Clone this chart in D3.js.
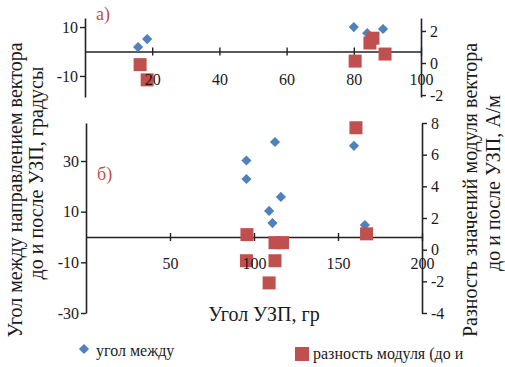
<!DOCTYPE html>
<html>
<head>
<meta charset="utf-8">
<script src="https://cdn.jsdelivr.net/npm/d3@7/dist/d3.min.js"></script>
<style>
  body { margin: 0; background: #fff; }
  svg text { font-family: 'Liberation Serif', 'Times New Roman', Tinos, 'DejaVu Serif', serif; fill: #1a1a1a; }
</style>
</head>
<body>
<div id="root"></div>
<script>
// панель а)
const aAngleX = [15.8, 18.5, 80, 84, 88.7]
const aAngleY = [1.8, 5.1, 10, 7.5, 9.2]
const aModX = [16.4, 18.5, 80.4, 84.8, 85.7, 89.3]
const aModY = [-0.1, -1.05, 0.12, 1.25, 1.55, 0.56]
const aXTicks = [20, 40, 60, 80, 100]
const aYLTicks = [-10, 10]
const aYRTicks = [-2, 0, 2]

// панель б)
const bAngleX = [95.5, 95.5, 112.5, 116, 109, 111, 159.5, 166]
const bAngleY = [30.2, 22.9, 37.5, 15.8, 10.3, 5.5, 36, 4.7]
const bModX = [95.8, 95.5, 109, 112.5, 112.5, 117, 160.7, 167]
const bModY = [0.95, -0.7, -2.1, -0.7, 0.44, 0.44, 7.7, 1.0]
const bXTicks = [50, 100, 150, 200]
const bYLTicks = [-30, -10, 10, 30]
const bYRTicks = [-4, -2, 0, 2, 4, 6, 8]

const blue = "#4f81bd"
const red = "#c0504d"
const serif = "'Liberation Serif', 'Times New Roman', Tinos, 'DejaVu Serif', serif"
const w = 505
const h = 367

const svg = d3.select("#root")
    .append("svg")
    .attr("width", w)
    .attr("height", h)
    .style("font-family", serif)

const panel = cfg => {
    const x = d3.scaleLinear().domain(cfg.xDomain).range([cfg.left, cfg.right])
    const yL = d3.scaleLinear().domain(cfg.yLDomain).range([cfg.bottom, cfg.top])
    const yR = d3.scaleLinear().domain(cfg.yRDomain).range([cfg.bottom, cfg.top])
    const y0 = yL(0)
    const fmt = d => String(d)

    const styleAxis = g => {
        g.attr("font-family", serif).attr("font-size", 16)
        g.select(".domain").attr("stroke", "#222").attr("stroke-width", 1.6)
        g.selectAll(".tick line").attr("stroke", "#222").attr("stroke-width", 1.4)
    }

    svg.append("g")
        .attr("transform", `translate(${cfg.left},0)`)
        .call(d3.axisLeft(yL).tickValues(cfg.yLTicks).tickSizeInner(5).tickSizeOuter(0).tickPadding(2).tickFormat(fmt))
        .call(styleAxis)

    svg.append("g")
        .attr("transform", `translate(${cfg.right},0)`)
        .call(d3.axisRight(yR).tickValues(cfg.yRTicks).tickSizeInner(5).tickSizeOuter(0).tickPadding(4).tickFormat(fmt))
        .call(styleAxis)

    // x-ось: линия и штрихи
    const gx = svg.append("g")
        .attr("transform", `translate(0,${y0})`)
        .call(d3.axisBottom(x).tickValues(cfg.xTicks).tickSizeOuter(0).tickFormat(""))
        .call(styleAxis)
    gx.selectAll(".tick line").attr("y1", -4).attr("y2", 4)

    svg.append("g").selectAll("path")
        .data(cfg.angleX.map((v, i) => [v, cfg.angleY[i]]))
        .enter()
        .append("path")
        .attr("d", d3.symbol(d3.symbolSquare, 52))
        .attr("transform", d => `translate(${x(d[0])},${yL(d[1])}) rotate(45)`)
        .attr("fill", blue)

    svg.append("g").selectAll("rect")
        .data(cfg.modX.map((v, i) => [v, cfg.modY[i]]))
        .enter()
        .append("rect")
        .attr("x", d => x(d[0]) - 6.5)
        .attr("y", d => yR(d[1]) - 6.5)
        .attr("width", 13)
        .attr("height", 13)
        .attr("fill", red)

    // подписи x поверх маркеров
    const gl = svg.append("g")
        .attr("transform", `translate(0,${y0})`)
        .call(d3.axisBottom(x).tickValues(cfg.xTicks).tickSize(0).tickPadding(0).tickFormat(fmt))
    gl.attr("font-family", serif).attr("font-size", 16)
    gl.select(".domain").remove()
    gl.selectAll(".tick text").attr("y", cfg.labelDy).attr("dy", "0.35em")

    svg.append("text")
        .attr("x", cfg.left + 11)
        .attr("y", cfg.tagY)
        .attr("font-size", 18)
        .style("fill", red)
        .text(cfg.tag)
}

panel({
    xDomain: [0, 100], yLDomain: [-18.6, 13.7], yRDomain: [-2.12, 2.81],
    left: 85, right: 421, top: 18, bottom: 97,
    xTicks: aXTicks, yLTicks: aYLTicks, yRTicks: aYRTicks,
    angleX: aAngleX, angleY: aAngleY, modX: aModX, modY: aModY,
    labelDy: 28, tag: "а)", tagY: 20
})

panel({
    xDomain: [0, 200], yLDomain: [-30, 45], yRDomain: [-4, 8],
    left: 86, right: 422, top: 123, bottom: 313,
    xTicks: bXTicks, yLTicks: bYLTicks, yRTicks: bYRTicks,
    angleX: bAngleX, angleY: bAngleY, modX: bModX, modY: bModY,
    labelDy: 26, tag: "б)", tagY: 180
})

// подписи осей
const vTitle = (cx, cy, str) => svg.append("text")
    .attr("transform", `translate(${cx},${cy}) rotate(-90)`)
    .attr("text-anchor", "middle")
    .attr("dy", "0.35em")
    .attr("font-size", 20)
    .text(str)

vTitle(15, 190, "Угол между направлением вектора")
vTitle(36, 173, "до и после УЗП, градусы")
vTitle(470, 190, "Разность значений модуля вектора")
vTitle(493, 183, "до и после УЗП, А/м")

svg.append("text")
    .attr("x", 264)
    .attr("y", 321)
    .attr("text-anchor", "middle")
    .attr("font-size", 20)
    .text("Угол УЗП, гр")

// легенда
svg.append("path")
    .attr("d", d3.symbol(d3.symbolSquare, 52))
    .attr("transform", "translate(84,349) rotate(45)")
    .attr("fill", blue)
svg.append("text")
    .attr("x", 96)
    .attr("y", 356)
    .attr("font-size", 16)
    .text("угол между")

svg.append("rect")
    .attr("x", 295)
    .attr("y", 347)
    .attr("width", 14)
    .attr("height", 14)
    .attr("fill", red)
svg.append("text")
    .attr("x", 313)
    .attr("y", 359)
    .attr("font-size", 16)
    .text("разность модуля (до и")
</script>
</body>
</html>
